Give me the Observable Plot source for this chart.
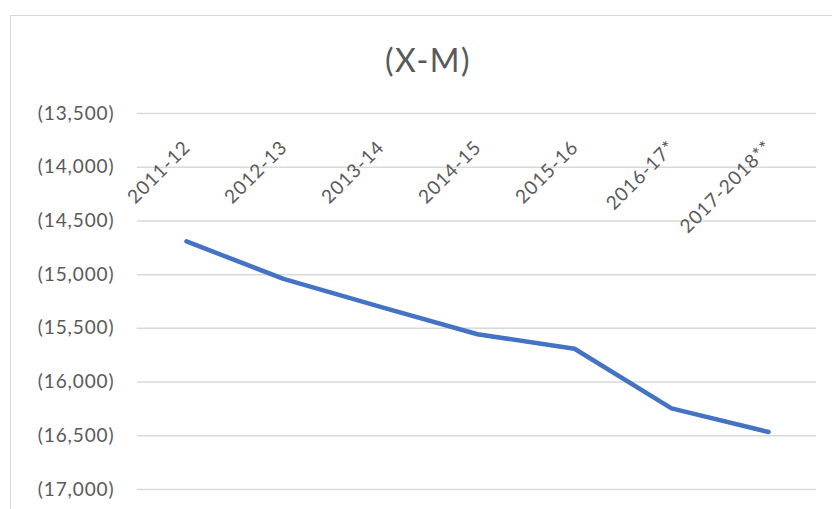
<!DOCTYPE html>
<html>
<head>
<meta charset="utf-8">
<script src="https://cdn.jsdelivr.net/npm/d3@7"></script>
<script src="https://cdn.jsdelivr.net/npm/@observablehq/plot@0.6"></script>
<style>
  html, body { margin: 0; padding: 0; background: #ffffff; }
  #wrap { position: relative; width: 832px; height: 509px; overflow: hidden; background: #fff; }
  #frame { position: absolute; left: 10px; top: 15px; width: 900px; height: 600px;
           border-left: 1.5px solid #d9d9d9; border-top: 1.5px solid #d9d9d9; }
  #title { position: absolute; left: 0; top: 42px; width: 856px; height: 36px; line-height: 36px;
           text-align: center; font-family: Lato, sans-serif; font-size: 32px; color: #595959;
           letter-spacing: 1.5px; }
  #chart { position: absolute; left: 0; top: 0; }
  #chart svg text { letter-spacing: 0.9px; }
</style>
</head>
<body>
<div id="wrap">
  <div id="frame"></div>
  <div id="chart"></div>
  <div id="title">(X-M)</div>
</div>
<script>
const categories = ["2011-12", "2012-13", "2013-14", "2014-15", "2015-16", "2016-17*", "2017-2018**"];
const values = [-14690, -15040, -15300, -15555, -15690, -16245, -16465];
const yTicks = [-13500, -14000, -14500, -15000, -15500, -16000, -16500, -17000];

const data = categories.map((c, i) => ({category: c, value: values[i]}));
const fmt = d3.format(",");
const tickFormat = v => v < 0 ? "(" + fmt(-v) + ")" : fmt(v);

const chart = Plot.plot({
  width: 832,
  height: 509,
  marginLeft: 137,
  marginRight: 16,
  marginTop: 113,
  marginBottom: 20,
  style: {fontFamily: "Lato, sans-serif", fontSize: "19px", color: "#595959", background: "transparent"},
  x: {type: "point", domain: categories, padding: 0.5, axis: null},
  y: {domain: [-17000, -13500], axis: null},
  marks: [
    Plot.gridY(yTicks, {stroke: "#d9d9d9", strokeOpacity: 1, strokeWidth: 1.5}),
    Plot.axisY(yTicks, {tickSize: 0, tickPadding: 23, tickFormat, fontSize: 19, label: null}),
    Plot.text(categories, {x: d => d, frameAnchor: "top", rotate: -45, textAnchor: "end",
                           lineAnchor: "bottom", dx: 5, dy: 35, fontSize: 19}),
    Plot.line(data, {x: "category", y: "value", stroke: "#4472C4", strokeWidth: 4.5,
                     strokeLinejoin: "round", strokeLinecap: "round"})
  ]
});
document.getElementById("chart").appendChild(chart);
</script>
</body>
</html>
